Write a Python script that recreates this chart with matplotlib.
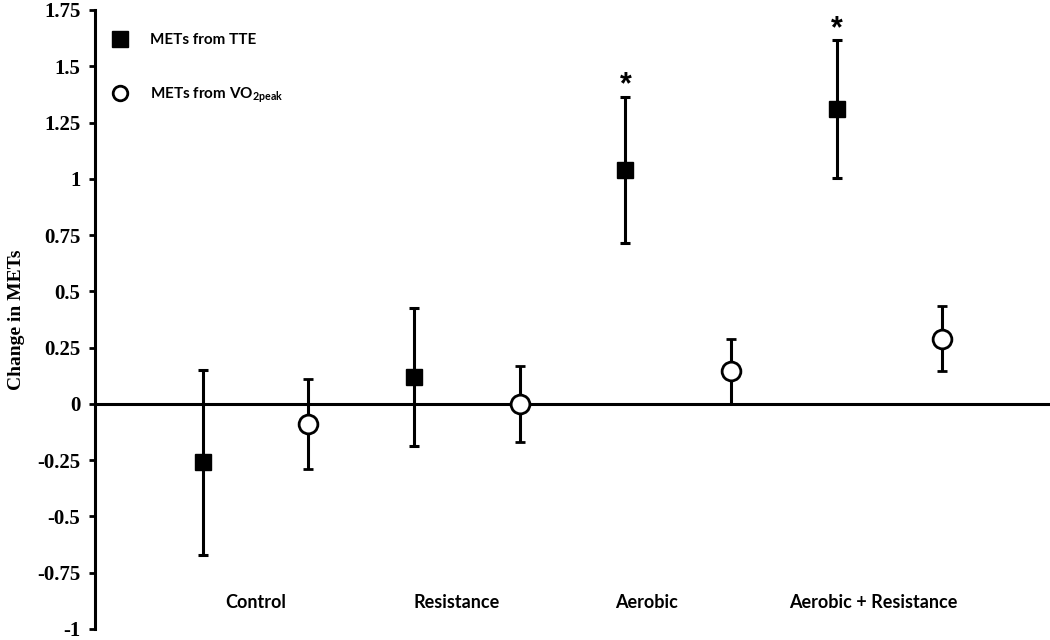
import matplotlib
matplotlib.use("Agg")
import matplotlib.pyplot as plt
from matplotlib.lines import Line2D
import numpy as np

# data
groups = ["Control", "Resistance", "Aerobic", "Aerobic + Resistance"]
tte_mean = [-0.26, 0.12, 1.04, 1.31]
tte_err = [0.41, 0.305, 0.325, 0.305]
vo2_mean = [-0.09, 0.0, 0.145, 0.29]
vo2_err = [0.20, 0.17, 0.145, 0.145]
significant = [False, False, True, True]

yticks = [-1, -0.75, -0.5, -0.25, 0, 0.25, 0.5, 0.75, 1, 1.25, 1.5, 1.75]

plt.rcParams["mathtext.fontset"] = "custom"
plt.rcParams["mathtext.rm"] = "Lato:bold"
plt.rcParams["mathtext.it"] = "Lato:bold"
plt.rcParams["mathtext.bf"] = "Lato:bold"

fig = plt.figure(figsize=(10.5, 6.4), dpi=100)
ax = fig.add_axes([0.0905, 0.0172, 0.9075, 0.9672])

x_tte = np.arange(len(groups)) * 2
x_vo2 = x_tte + 1

ax.errorbar(x_tte, tte_mean, yerr=tte_err, fmt="s", color="black",
            markersize=12, elinewidth=2.2, capsize=3.6, capthick=2.2, zorder=3)
ax.errorbar(x_vo2, vo2_mean, yerr=vo2_err, fmt="o", color="black",
            markerfacecolor="white", markeredgecolor="black", markeredgewidth=2,
            markersize=13.5, elinewidth=2.2, capsize=3.6, capthick=2.2, zorder=3)

# asterisks above significant TTE changes
for x, m, e, s in zip(x_tte, tte_mean, tte_err, significant):
    if s:
        ax.annotate("*", xy=(x, m + e), xytext=(0, 8), textcoords="offset points",
                    ha="center", va="center", fontsize=22,
                    fontfamily="Liberation Sans", fontweight="bold")

# group labels
label_x = [0.5, 2.4, 4.2, 6.35]
for lx, g in zip(label_x, groups):
    ax.text(lx, -0.884, g, ha="center", va="center", fontsize=13,
            fontfamily="Lato", fontweight="bold")

ax.set_xlim(-1.02, 8.0)
ax.set_ylim(-1, 1.75)
ax.set_yticks(yticks)
ax.set_yticklabels([f"{v:g}" for v in yticks], fontfamily="Liberation Serif",
                   fontweight="bold", fontsize=15)
ax.tick_params(axis="y", direction="out", length=4.5, width=2, pad=6)
ax.set_xticks([])

ax.spines["top"].set_visible(False)
ax.spines["right"].set_visible(False)
ax.spines["bottom"].set_position(("data", 0))
ax.spines["left"].set_linewidth(2.2)
ax.spines["bottom"].set_linewidth(2.2)

ax.set_ylabel("Change in METs", fontfamily="Liberation Serif", fontweight="bold",
              fontsize=14)
ax.yaxis.set_label_coords(-0.074, 0.5)

handles = [
    Line2D([], [], marker="s", color="black", linestyle="none", markersize=11),
    Line2D([], [], marker="o", color="black", markerfacecolor="white",
           markeredgewidth=2, linestyle="none", markersize=10.5),
]
ax.legend(handles, ["METs from TTE", "METs from VO$_{2peak}$"],
          loc="upper left", bbox_to_anchor=(0.0186, 0.963), frameon=False,
          borderaxespad=0, borderpad=0, handlelength=1.0, handletextpad=1.42,
          labelspacing=2.55, prop={"family": "Lato", "weight": "bold", "size": 11})

fig.savefig("out.png", dpi=100)
